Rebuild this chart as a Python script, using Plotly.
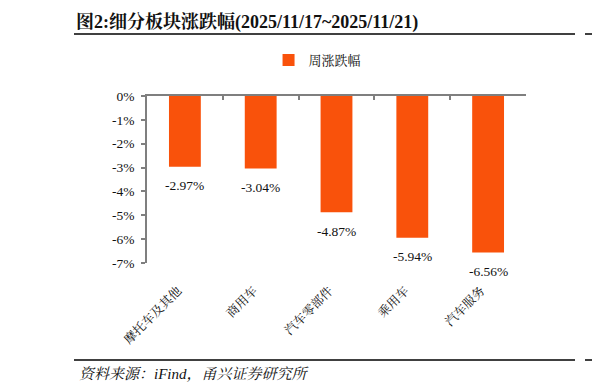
import plotly.graph_objects as go

categories = ["摩托车及其他", "商用车", "汽车零部件", "乘用车", "汽车服务"]
weekly_change = [-2.97, -3.04, -4.87, -5.94, -6.56]
y_tick_vals = [0, -1, -2, -3, -4, -5, -6, -7]
y_tick_text = ["0%", "-1%", "-2%", "-3%", "-4%", "-5%", "-6%", "-7%"]
series_name = "周涨跌幅"
title_text = "图2:细分板块涨跌幅(2025/11/17~2025/11/21)"
source_text = "资料来源：iFind，甬兴证券研究所"

FONT = "Times New Roman, Liberation Serif, Noto Serif CJK SC, Noto Sans CJK SC, serif"
BAR = "#F9520B"
AX = "#7f7f7f"

OFF = 8  # default page body margin
W, H = 600 - OFF, 392 - OFF
# plot area in reference page pixels: x 147..526, y 96..263
L, R = 147 - OFF, 600 - 526
T, B = 96 - OFF, 392 - 263
pw, ph = W - L - R, H - T - B


def px2x(px):
    return (px - OFF - L) / pw


def py2y(py):
    return (H - B - (py - OFF)) / ph


fig = go.Figure()
fig.add_trace(go.Bar(
    x=categories, y=weekly_change, name=series_name,
    marker=dict(color=BAR, line=dict(width=0)), width=0.42,
))
# invisible trace for top axis
fig.add_trace(go.Scatter(x=[0], y=[0], xaxis="x2", mode="markers",
                         marker=dict(opacity=0), showlegend=False, hoverinfo="skip"))

for c, v in zip(categories, weekly_change):
    fig.add_annotation(x=c, y=v, text=f"{v:.2f}%", showarrow=False,
                       yshift=-19, font=dict(family=FONT, size=13.5, color="#111"))

fig.update_layout(
    width=W, height=H,
    margin=dict(l=L, r=R, t=T, b=B),
    paper_bgcolor="white", plot_bgcolor="white",
    font=dict(family=FONT, color="#111"),
    title=dict(text=f"<b>{title_text}</b>", x=(76 - OFF) / W, xanchor="left", xref="container",
               y=1 - (22 - OFF) / H, yanchor="middle", yref="container",
               font=dict(family=FONT, size=18, color="#111")),
    showlegend=True,
    legend=dict(orientation="h", x=0.45, xanchor="center", y=py2y(60), yanchor="middle",
                font=dict(family=FONT, size=13), itemwidth=30, bgcolor="rgba(0,0,0,0)"),
    xaxis=dict(type="category", showline=False, ticks="", showgrid=False, zeroline=False,
               tickangle=-45, ticklabelstandoff=17, ticklabelshift=-7,
               tickfont=dict(family=FONT, size=12.5),
               range=[-0.5, 4.5]),
    xaxis2=dict(overlaying="x", side="top", range=[-0.5, 4.5], showline=True, linecolor=AX,
                linewidth=1.5, ticks="inside", ticklen=4, tickcolor=AX, tickwidth=1.5,
                tickvals=[0.5, 1.5, 2.5, 3.5, 4.5], showticklabels=False, showgrid=False,
                zeroline=False),
    yaxis=dict(range=[-7, 0], tickvals=y_tick_vals, ticktext=y_tick_text, showgrid=False,
               zeroline=False, showline=True, linecolor=AX, linewidth=1.5,
               ticks="outside", ticklen=4, tickcolor=AX, tickwidth=1.5,
               ticklabelstandoff=4, tickfont=dict(family=FONT, size=13.5)),
)

line = dict(color="black", width=1.5)
for py in (34, 360):
    fig.add_shape(type="line", xref="paper", yref="paper", x0=px2x(74), x1=px2x(575),
                  y0=py2y(py), y1=py2y(py), line=line)
    fig.add_shape(type="line", xref="paper", yref="paper", x0=px2x(585), x1=px2x(600),
                  y0=py2y(py), y1=py2y(py), line=line)

fig.add_annotation(text=f"<i>{source_text}</i>", xref="paper", yref="paper",
                   x=px2x(77), y=py2y(374), xanchor="left", yanchor="middle",
                   showarrow=False, font=dict(family=FONT, size=15, color="#111"))

fig.write_html("out.html")
